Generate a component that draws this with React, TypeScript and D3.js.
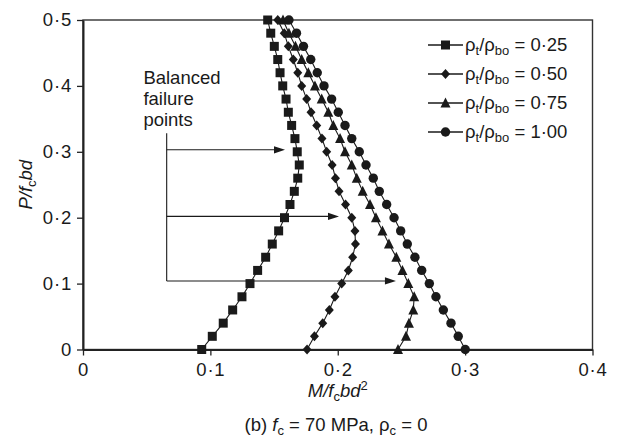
import React, { useEffect, useRef } from 'react';
import * as d3 from 'd3';

// P/fc bd levels (same for every curve)
const pLevels = [
  0, 0.02, 0.04, 0.06, 0.08, 0.1, 0.12, 0.14, 0.16, 0.18, 0.2, 0.22, 0.24,
  0.26, 0.28, 0.3, 0.32, 0.34, 0.36, 0.38, 0.4, 0.42, 0.44, 0.46, 0.48, 0.5,
];

// M/fc bd^2, one array per rho_t/rho_bo ratio
const ratio025 = [
  0.0932, 0.1015, 0.1101, 0.1175, 0.1248, 0.1311, 0.1371, 0.1434, 0.1486,
  0.1536, 0.1582, 0.1625, 0.1659, 0.1686, 0.1698, 0.1682, 0.1664, 0.1638,
  0.1612, 0.1594, 0.1568, 0.1547, 0.1529, 0.1502, 0.1474, 0.145,
];
const ratio050 = [
  0.1759, 0.1817, 0.1882, 0.1934, 0.1978, 0.2031, 0.2083, 0.2117, 0.2139,
  0.2135, 0.211, 0.2061, 0.201, 0.1982, 0.1956, 0.1913, 0.1876, 0.1835,
  0.179, 0.1756, 0.1717, 0.1686, 0.1651, 0.1612, 0.158, 0.1529,
];
const ratio075 = [
  0.2473, 0.2536, 0.2559, 0.2593, 0.26, 0.2554, 0.2508, 0.246, 0.2402,
  0.2351, 0.23, 0.2253, 0.2196, 0.2149, 0.211, 0.2057, 0.2018, 0.1965,
  0.1926, 0.1874, 0.1821, 0.1769, 0.1717, 0.1668, 0.1617, 0.157,
];
const ratio100 = [
  0.3001, 0.2946, 0.2889, 0.2829, 0.2771, 0.2719, 0.2659, 0.2606, 0.2546,
  0.2494, 0.2442, 0.2384, 0.2326, 0.2279, 0.2222, 0.2169, 0.211, 0.2057,
  0.2004, 0.1952, 0.1892, 0.1839, 0.1788, 0.1731, 0.1676, 0.1617,
];

const seriesLabels = ['0·25', '0·50', '0·75', '1·00'];
const seriesShapes = ['square', 'diamond', 'triangle', 'circle'];
const seriesValues = [ratio025, ratio050, ratio075, ratio100];

const xTicks = [0, 0.1, 0.2, 0.3, 0.4];
const yTicks = [0, 0.1, 0.2, 0.3, 0.4, 0.5];

// "Balanced failure points" arrows: level P and arrow tip M
const arrowLevels = [0.303, 0.202, 0.104];
const arrowTips = [0.1586, 0.201, 0.2457];
const arrowStemX = 0.0657;
const arrowStemTop = 0.328;

const W = 617;
const H = 439;
const margin = { top: 20, right: 24.5, bottom: 89.5, left: 83 };
const FONT = '"Liberation Sans", Arial, Helvetica, sans-serif';
const FS = 18.5;
const SUB = 13;
const INK = '#1a1a1a';

const diamond = {
  draw(ctx: any, size: number) {
    const h = Math.sqrt(size) / 2;
    const w = h * 0.9;
    ctx.moveTo(0, -h);
    ctx.lineTo(w, 0);
    ctx.lineTo(0, h);
    ctx.lineTo(-w, 0);
    ctx.closePath();
  },
};
const triangle = {
  draw(ctx: any, size: number) {
    const s = Math.sqrt(size) / 2;
    ctx.moveTo(0, -s * 1.1);
    ctx.lineTo(s, s * 0.9);
    ctx.lineTo(-s, s * 0.9);
    ctx.closePath();
  },
};

function markerPath(shape: string) {
  if (shape === 'square') return d3.symbol(d3.symbolSquare, 81)();
  if (shape === 'diamond') return d3.symbol(diamond as any, 100)();
  if (shape === 'triangle') return d3.symbol(triangle as any, 100)();
  return d3.symbol(d3.symbolCircle, Math.PI * 4.7 * 4.7)();
}

const fmt = (d: number) => (d === 0 ? '0' : d3.format('.1f')(d).replace('.', '·'));

function Chart() {
  const ref = useRef<SVGSVGElement | null>(null);

  useEffect(() => {
    const svg = d3.select(ref.current);
    svg.selectAll('*').remove();

    const iw = W - margin.left - margin.right;
    const ih = H - margin.top - margin.bottom;

    const x = d3.scaleLinear().domain([0, 0.4]).range([0, iw]);
    const y = d3.scaleLinear().domain([0, 0.5]).range([ih, 0]);

    const g = svg
      .append('g')
      .attr('transform', `translate(${margin.left},${margin.top})`);

    // frame
    g.append('rect')
      .attr('width', iw)
      .attr('height', ih)
      .attr('fill', 'none')
      .attr('stroke', '#333')
      .attr('stroke-width', 1.4);

    const xAxis = d3
      .axisBottom(x)
      .tickValues(xTicks)
      .tickFormat(fmt as any)
      .tickSize(6)
      .tickSizeOuter(0)
      .tickPadding(7);
    const yAxis = d3
      .axisLeft(y)
      .tickValues(yTicks)
      .tickFormat(fmt as any)
      .tickSize(6)
      .tickSizeOuter(0)
      .tickPadding(5);

    const gx = g.append('g').attr('transform', `translate(0,${ih})`).call(xAxis);
    const gy = g.append('g').call(yAxis);
    [gx, gy].forEach((a) => {
      a.select('.domain').attr('stroke', '#222').attr('stroke-width', 2);
      a.selectAll('.tick line').attr('stroke', '#222').attr('stroke-width', 1.3);
      a.selectAll('.tick text')
        .attr('fill', INK)
        .attr('font-family', FONT)
        .attr('font-size', FS)
        .attr('letter-spacing', 0.8);
    });

    // annotation
    const ann = g.append('g').attr('stroke', INK).attr('stroke-width', 1.1);
    ann
      .append('line')
      .attr('x1', x(arrowStemX))
      .attr('x2', x(arrowStemX))
      .attr('y1', y(arrowStemTop))
      .attr('y2', y(arrowLevels[2]));
    arrowLevels.forEach((lv, i) => {
      const tx = x(arrowTips[i]);
      const ty = y(lv);
      ann
        .append('line')
        .attr('x1', x(arrowStemX))
        .attr('x2', tx - 9)
        .attr('y1', ty)
        .attr('y2', ty);
      ann
        .append('path')
        .attr('d', `M${tx},${ty}L${tx - 11},${ty - 3.6}L${tx - 11},${ty + 3.6}Z`)
        .attr('fill', INK)
        .attr('stroke', 'none');
    });
    const annText = g
      .append('text')
      .attr('font-family', FONT)
      .attr('font-size', FS)
      .attr('fill', INK);
    ['Balanced', 'failure', 'points'].forEach((t, i) => {
      annText
        .append('tspan')
        .attr('x', x(0.0474))
        .attr('y', 63.5 + i * 21)
        .text(t);
    });

    // curves
    const line = d3
      .line<number>()
      .x((d) => x(d))
      .y((_d, i) => y(pLevels[i]));

    seriesValues.forEach((vals, si) => {
      g.append('path')
        .attr('d', line(vals))
        .attr('fill', 'none')
        .attr('stroke', INK)
        .attr('stroke-width', 1.1);
      g.append('g')
        .selectAll('path')
        .data(vals)
        .enter()
        .append('path')
        .attr('d', markerPath(seriesShapes[si]))
        .attr('transform', (d, i) => `translate(${x(d)},${y(pLevels[i])})`)
        .attr('fill', INK);
    });

    // legend
    const lg = svg.append('g').attr('font-family', FONT).attr('fill', INK);
    seriesLabels.forEach((lab, i) => {
      const ry = 45 + i * 29;
      lg.append('line')
        .attr('x1', 428)
        .attr('x2', 463)
        .attr('y1', ry)
        .attr('y2', ry)
        .attr('stroke', INK)
        .attr('stroke-width', 1.3);
      lg.append('path')
        .attr('d', markerPath(seriesShapes[i]))
        .attr('transform', `translate(445.5,${ry})`)
        .attr('fill', INK);
      const t = lg.append('text').attr('x', 465).attr('y', ry + 6).attr('font-size', FS);
      t.append('tspan').text('ρ');
      t.append('tspan').attr('font-size', SUB).attr('dy', 4).text('t');
      t.append('tspan').attr('dy', -4).text('/ρ');
      t.append('tspan').attr('font-size', SUB).attr('dy', 4).text('bo');
      t.append('tspan').attr('dy', -4).text(` = ${lab}`);
    });

    // axis titles
    const xt = svg
      .append('text')
      .attr('x', margin.left + iw / 2)
      .attr('y', 397)
      .attr('text-anchor', 'middle')
      .attr('font-family', FONT)
      .attr('font-size', FS)
      .attr('fill', INK);
    xt.append('tspan').attr('font-style', 'italic').text('M/f');
    xt.append('tspan').attr('font-size', SUB).attr('dy', 4).text('c');
    xt.append('tspan').attr('dy', -4).attr('font-style', 'italic').text('bd');
    xt.append('tspan').attr('font-size', SUB).attr('dy', -7).text('2');

    const yt = svg
      .append('text')
      .attr('transform', `translate(32,${margin.top + ih / 2}) rotate(-90)`)
      .attr('text-anchor', 'middle')
      .attr('font-family', FONT)
      .attr('font-size', FS)
      .attr('fill', INK);
    yt.append('tspan').attr('font-style', 'italic').text('P/f');
    yt.append('tspan').attr('font-size', SUB).attr('dy', 4).text('c');
    yt.append('tspan').attr('dy', -4).attr('font-style', 'italic').text('bd');

    const cap = svg
      .append('text')
      .attr('x', 336)
      .attr('y', 431)
      .attr('text-anchor', 'middle')
      .attr('font-family', FONT)
      .attr('font-size', FS)
      .attr('fill', INK);
    cap.append('tspan').text('(b) ');
    cap.append('tspan').attr('font-style', 'italic').text('f');
    cap.append('tspan').attr('font-size', SUB).attr('dy', 4).text('c');
    cap.append('tspan').attr('dy', -4).text(' =  70 MPa, ρ');
    cap.append('tspan').attr('font-size', SUB).attr('dy', 4).text('c');
    cap.append('tspan').attr('dy', -4).text(' =  0');
  }, []);

  return (
    <svg
      ref={ref}
      width={W}
      height={H}
      style={{ position: 'absolute', left: 0, top: 0, background: '#fff' }}
    />
  );
}

export default function App() {
  return <Chart />;
}
